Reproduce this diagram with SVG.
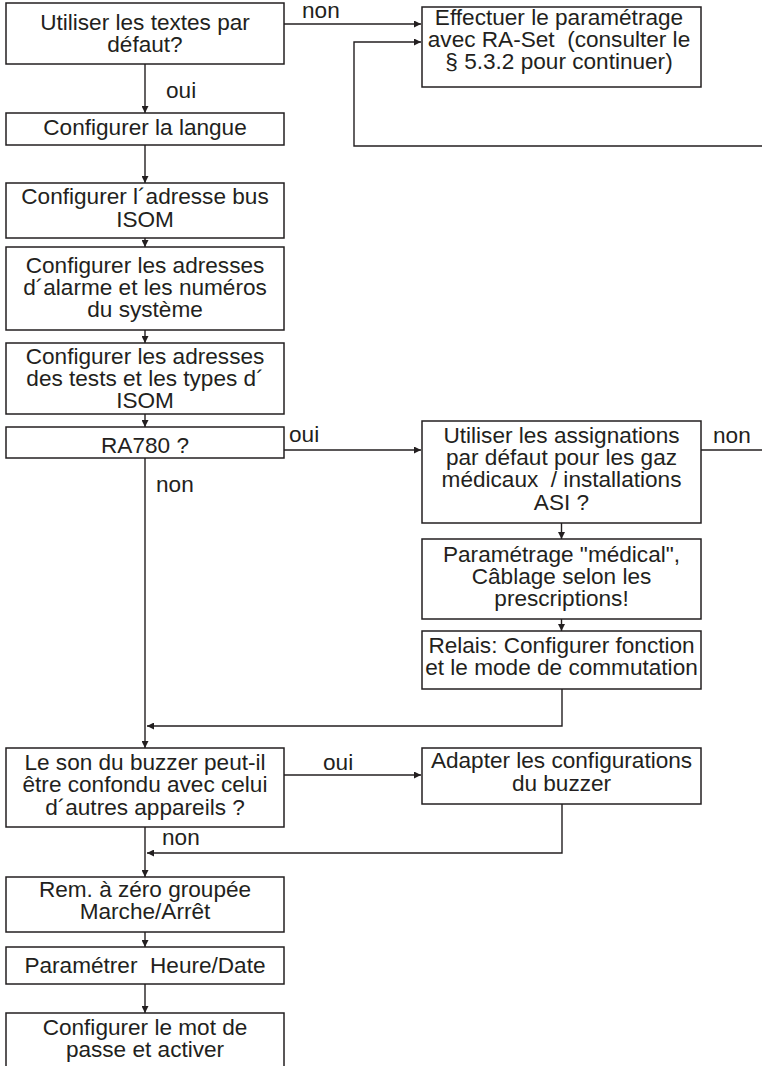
<svg xmlns="http://www.w3.org/2000/svg" width="762" height="1066" viewBox="0 0 762 1066">
<style>
.box{fill:#fff;stroke:#231f20;stroke-width:1.5}
.t{font-family:"Liberation Sans",Arial,sans-serif;font-size:22.6px;fill:#231f20;text-anchor:middle;white-space:pre}
.l{font-family:"Liberation Sans",Arial,sans-serif;font-size:22.6px;fill:#231f20;white-space:pre}
.c{fill:none;stroke:#231f20;stroke-width:1.4}
.a{marker-end:url(#arr)}
</style>
<defs>
<marker id="arr" viewBox="0 0 10 10" refX="10" refY="5" markerWidth="9" markerHeight="7" markerUnits="userSpaceOnUse" orient="auto">
<path d="M0,0 L10,5 L0,10 z" fill="#231f20"/>
</marker>
</defs>
<g id="connectors">
<path class="c a" d="M284,24 H421"/>
<path class="c a" d="M762,146 H354 V42 H421"/>
<path class="c a" d="M145,64 V113"/>
<path class="c a" d="M145,145 V183"/>
<path class="c a" d="M145,238 V247"/>
<path class="c a" d="M145,322 V343"/>
<path class="c a" d="M145,402 V427"/>
<path class="c a" d="M284,450 H421"/>
<path class="c" d="M701,450 H762"/>
<path class="c a" d="M561.5,523 V539"/>
<path class="c a" d="M561.5,614 V631"/>
<path class="c a" d="M145,458 V748"/>
<path class="c a" d="M562,689 V726 H147"/>
<path class="c a" d="M284,775 H421"/>
<path class="c a" d="M145,827 V877"/>
<path class="c a" d="M562,804 V853 H147"/>
<path class="c a" d="M145,932 V947"/>
<path class="c a" d="M145,984 V1013"/>
<text class="l" x="302" y="18">non</text>
<text class="l" x="166" y="98">oui</text>
<text class="l" x="289" y="442">oui</text>
<text class="l" x="156" y="492">non</text>
<text class="l" x="713" y="443">non</text>
<text class="l" x="323" y="770">oui</text>
<text class="l" x="162" y="845">non</text>
</g>
<g id="n1"><rect class="box" x="6" y="3" width="278" height="61"/>
<text class="t" x="145" y="30">Utiliser les textes par</text><text class="t" x="145" y="52">défaut?</text></g>
<g id="n2"><rect class="box" x="422" y="7" width="279" height="80"/>
<text class="t" x="559" y="25">Effectuer le paramétrage</text><text class="t" x="559" y="47">avec RA-Set  (consulter le</text><text class="t" x="559" y="69">§ 5.3.2 pour continuer)</text></g>
<g id="n3"><rect class="box" x="6" y="113" width="278" height="32"/>
<text class="t" x="145" y="135">Configurer la langue</text></g>
<g id="n4"><rect class="box" x="6" y="183" width="278" height="55"/>
<text class="t" x="145" y="204">Configurer l´adresse bus</text><text class="t" x="145" y="227">ISOM</text></g>
<g id="n5"><rect class="box" x="6" y="247" width="278" height="83"/>
<text class="t" x="145" y="273">Configurer les adresses</text><text class="t" x="145" y="295">d´alarme et les numéros</text><text class="t" x="145" y="317">du système</text></g>
<g id="n6"><rect class="box" x="6" y="343" width="278" height="71"/>
<text class="t" x="145" y="364">Configurer les adresses</text><text class="t" x="145" y="386">des tests et les types d´</text><text class="t" x="145" y="408">ISOM</text></g>
<g id="n7"><rect class="box" x="6" y="427" width="278" height="31"/>
<text class="t" x="145" y="453">RA780 ?</text></g>
<g id="n8"><rect class="box" x="422" y="421" width="279" height="102"/>
<text class="t" x="561.5" y="443">Utiliser les assignations</text><text class="t" x="561.5" y="465">par défaut pour les gaz</text><text class="t" x="561.5" y="487">médicaux  / installations</text><text class="t" x="561.5" y="510">ASI ?</text></g>
<g id="n9"><rect class="box" x="422" y="539" width="279" height="80"/>
<text class="t" x="561.5" y="562">Paramétrage "médical",</text><text class="t" x="561.5" y="584">Câblage selon les</text><text class="t" x="561.5" y="606">prescriptions!</text></g>
<g id="n10"><rect class="box" x="422" y="631" width="279" height="58"/>
<text class="t" x="561.5" y="653">Relais: Configurer fonction</text><text class="t" x="561.5" y="675">et le mode de commutation</text></g>
<g id="n11"><rect class="box" x="6" y="748" width="278" height="79"/>
<text class="t" x="145" y="770">Le son du buzzer peut-il</text><text class="t" x="145" y="792">être confondu avec celui</text><text class="t" x="145" y="815">d´autres appareils ?</text></g>
<g id="n12"><rect class="box" x="422" y="748" width="279" height="56"/>
<text class="t" x="561.5" y="768">Adapter les configurations</text><text class="t" x="561.5" y="791">du buzzer</text></g>
<g id="n13"><rect class="box" x="6" y="877" width="278" height="55"/>
<text class="t" x="145" y="897">Rem. à zéro groupée</text><text class="t" x="145" y="919">Marche/Arrêt</text></g>
<g id="n14"><rect class="box" x="6" y="947" width="278" height="37"/>
<text class="t" x="145" y="973">Paramétrer  Heure/Date</text></g>
<g id="n15"><rect class="box" x="6" y="1013" width="278" height="60"/>
<text class="t" x="145" y="1035">Configurer le mot de</text><text class="t" x="145" y="1057">passe et activer</text></g>
</svg>
